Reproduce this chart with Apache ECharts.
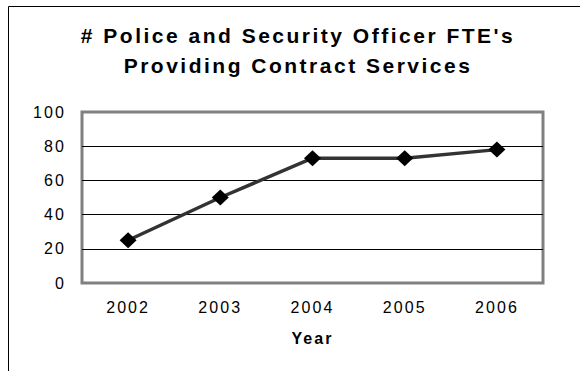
<!DOCTYPE html>
<html>
<head>
<meta charset="utf-8">
<script src="https://cdn.jsdelivr.net/npm/echarts@6/dist/echarts.min.js"></script>
<style>
  html, body { margin: 0; padding: 0; background: #fff; }
  #chart { width: 580px; height: 371px; }
  /* Excel-style loose tracking on every label */
  #chart text { letter-spacing: 0.13em; }
  #chart text[style*="21px"] { letter-spacing: 2.5px; }
</style>
</head>
<body>
<div id="chart"></div>
<script>
// Fiscal years on the category axis
const years = ['2002', '2003', '2004', '2005', '2006'];
// Police and security officer FTEs providing contract services
const fteCounts = [25, 50, 73, 73, 78];
// Value axis range and step
const yMin = 0;
const yMax = 100;
const yStep = 20;

const FONT = "'Liberation Sans', Arial, sans-serif";

const chart = echarts.init(document.getElementById('chart'), null, { renderer: 'svg' });

chart.setOption({
  backgroundColor: '#ffffff',
  animation: false,
  title: {
    text: "# Police and Security Officer FTE's\nProviding Contract Services",
    left: 293,
    top: 15,
    textAlign: 'center',
    textStyle: {
      fontFamily: FONT,
      fontSize: 21,
      fontWeight: 'bold',
      color: '#000',
      lineHeight: 30
    }
  },
  graphic: [{
    type: 'rect',
    silent: true,
    shape: { x: 8.5, y: 6.5, width: 700, height: 500 },
    style: { fill: 'none', stroke: '#000', lineWidth: 1 },
    z: -10
  }],
  grid: {
    left: 82,
    top: 112,
    width: 461,
    height: 171,
    show: true,
    borderColor: '#808080',
    borderWidth: 3,
    backgroundColor: 'transparent'
  },
  xAxis: {
    type: 'category',
    data: years,
    boundaryGap: true,
    axisLine: { show: false },
    axisTick: { show: false },
    axisLabel: {
      fontFamily: FONT,
      fontSize: 16,
      color: '#000',
      margin: 16
    },
    name: 'Year',
    nameLocation: 'middle',
    nameGap: 47,
    nameTextStyle: {
      fontFamily: FONT,
      fontSize: 16,
      fontWeight: 'bold',
      color: '#000'
    }
  },
  yAxis: {
    type: 'value',
    min: yMin,
    max: yMax,
    interval: yStep,
    axisLine: { show: false },
    axisTick: { show: false },
    axisLabel: {
      fontFamily: FONT,
      fontSize: 16,
      color: '#000',
      margin: 16
    },
    splitLine: {
      show: true,
      showMinLine: false,
      showMaxLine: false,
      lineStyle: { color: '#000', width: 1 }
    }
  },
  series: [{
    type: 'line',
    data: fteCounts,
    symbol: 'diamond',
    symbolSize: [17, 16],
    lineStyle: { color: '#333333', width: 3.5 },
    itemStyle: { color: '#000000' },
    z: 5
  }]
});
</script>
</body>
</html>
